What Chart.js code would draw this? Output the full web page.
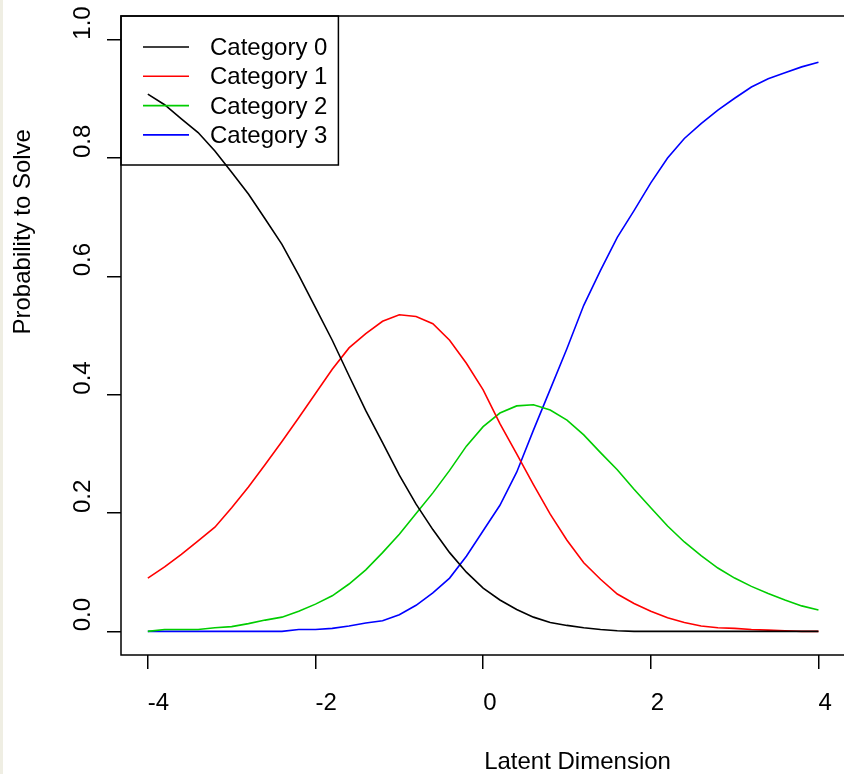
<!DOCTYPE html>
<html>
<head>
<meta charset="utf-8">
<script src="https://cdn.jsdelivr.net/npm/chart.js@4/dist/chart.umd.min.js"></script>
<style>
  html, body { margin: 0; padding: 0; overflow: hidden; background: #ffffff; }
  #wrap { position: absolute; left: 0; top: 0; width: 852px; height: 774px; }
  #edge { position: absolute; left: 0; top: 0; width: 3px; height: 774px; background: #efeee3; }
</style>
</head>
<body>
<div id="wrap"><canvas id="c"></canvas></div>
<div id="edge"></div>
<script>
// Latent trait grid
const theta = [-4, -3.8, -3.6, -3.4, -3.2, -3, -2.8, -2.6, -2.4, -2.2, -2, -1.8, -1.6, -1.4, -1.2, -1,
  -0.8, -0.6, -0.4, -0.2, 0, 0.2, 0.4, 0.6, 0.8, 1, 1.2, 1.4, 1.6, 1.8, 2, 2.2, 2.4, 2.6, 2.8, 3,
  3.2, 3.4, 3.6, 3.8, 4];

// Category response probabilities
const cat0 = [0.908, 0.890, 0.866, 0.843, 0.812, 0.776, 0.739, 0.697, 0.654, 0.602, 0.547, 0.492,
  0.432, 0.373, 0.319, 0.264, 0.215, 0.172, 0.133, 0.100, 0.073, 0.053, 0.037, 0.024, 0.015, 0.010,
  0.006, 0.003, 0.001, 0, 0, 0, 0, 0, 0, 0, 0, 0, 0, 0, 0];
const cat1 = [0.090, 0.109, 0.130, 0.153, 0.176, 0.209, 0.244, 0.282, 0.321, 0.361, 0.402, 0.443,
  0.479, 0.503, 0.524, 0.535, 0.532, 0.520, 0.492, 0.453, 0.408, 0.351, 0.300, 0.248, 0.198, 0.154,
  0.116, 0.088, 0.063, 0.047, 0.034, 0.023, 0.015, 0.009, 0.006, 0.005, 0.003, 0.002, 0.001, 0, 0];
const cat2 = [0, 0.003, 0.003, 0.003, 0.006, 0.008, 0.013, 0.019, 0.024, 0.034, 0.046, 0.060,
  0.080, 0.104, 0.133, 0.164, 0.199, 0.234, 0.272, 0.313, 0.346, 0.369, 0.381, 0.383, 0.374, 0.357,
  0.332, 0.302, 0.273, 0.240, 0.209, 0.178, 0.151, 0.128, 0.107, 0.090, 0.076, 0.064, 0.053, 0.043, 0.036];
const cat3 = [0, 0, 0, 0, 0, 0, 0, 0, 0, 0.003, 0.003, 0.005, 0.009, 0.014, 0.018, 0.028, 0.044,
  0.065, 0.090, 0.127, 0.170, 0.213, 0.269, 0.340, 0.409, 0.478, 0.551, 0.610, 0.666, 0.711, 0.758,
  0.800, 0.833, 0.858, 0.881, 0.901, 0.920, 0.934, 0.944, 0.954, 0.962];

const seriesNames = ['Category 0', 'Category 1', 'Category 2', 'Category 3'];
const seriesValues = [cat0, cat1, cat2, cat3];
const seriesColors = ['#000000', '#ff0000', '#00cd00', '#0000ff'];

const xTicks = [-4, -2, 0, 2, 4];
const yTicks = [0, 0.2, 0.4, 0.6, 0.8, 1.0];
const xTitle = 'Latent Dimension';
const yTitle = 'Probability to Solve';

const FONT_FAMILY = '"Liberation Sans", Arial, sans-serif';
const FONT_SIZE = 24;

const datasets = seriesValues.map((vals, i) => ({
  label: seriesNames[i],
  data: theta.map((t, j) => ({ x: t, y: vals[j] })),
  borderColor: seriesColors[i],
  backgroundColor: seriesColors[i],
  borderWidth: 1.6,
  pointRadius: 0,
  tension: 0,
  fill: false
}));

// Plot frame, inset legend and axis titles
const decorations = {
  id: 'decorations',
  beforeDatasetsDraw(chart) {
    const { ctx, chartArea: a } = chart;
    ctx.save();
    ctx.strokeStyle = '#000';
    ctx.lineWidth = 1.5;
    ctx.strokeRect(a.left, a.top, a.right - a.left, a.bottom - a.top);
    ctx.restore();
  },
  afterDatasetsDraw(chart) {
    const { ctx, chartArea: a } = chart;
    ctx.save();
    ctx.font = FONT_SIZE + 'px ' + FONT_FAMILY;
    const sets = chart.data.datasets;
    const textW = Math.max(...sets.map(d => ctx.measureText(d.label).width));
    const lineX0 = a.left + 22, lineX1 = a.left + 68, textX = a.left + 89;
    const rowY0 = a.top + 31, rowH = 29.3;
    const boxR = textX + textW + 11;
    const boxB = a.top + 149;
    ctx.strokeStyle = '#000';
    ctx.lineWidth = 1.5;
    ctx.strokeRect(a.left, a.top, boxR - a.left, boxB - a.top);
    sets.forEach((d, i) => {
      const y = rowY0 + i * rowH;
      ctx.strokeStyle = d.borderColor;
      ctx.lineWidth = 1.6;
      ctx.beginPath();
      ctx.moveTo(lineX0, y);
      ctx.lineTo(lineX1, y);
      ctx.stroke();
      ctx.fillStyle = '#000';
      ctx.textAlign = 'left';
      ctx.textBaseline = 'middle';
      ctx.fillText(d.label, textX, y + 1.5);
    });
    ctx.restore();
  },
  afterDraw(chart) {
    const { ctx, chartArea: a } = chart;
    ctx.save();
    ctx.font = FONT_SIZE + 'px ' + FONT_FAMILY;
    ctx.fillStyle = '#000';
    ctx.textAlign = 'left';
    ctx.textBaseline = 'alphabetic';
    ctx.fillText(xTitle, (a.left + a.right) / 2 + 1, 769);
    ctx.translate(23, (a.top + a.bottom) / 2 - 1);
    ctx.rotate(-Math.PI / 2);
    ctx.textBaseline = 'middle';
    ctx.fillText(yTitle, 0, 0);
    ctx.restore();
  }
};

new Chart(document.getElementById('c'), {
  type: 'line',
  data: { datasets },
  plugins: [decorations],
  options: {
    responsive: true,
    maintainAspectRatio: false,
    animation: false,
    devicePixelRatio: 1,
    events: [],
    layout: { padding: { left: 71, top: 16, right: 5, bottom: 0 } },
    plugins: { legend: { display: false }, tooltip: { enabled: false }, title: { display: false } },
    scales: {
      x: {
        type: 'linear',
        min: -4.32,
        max: 4.32,
        afterBuildTicks: s => { s.ticks = xTicks.map(v => ({ value: v })); },
        afterFit: s => { s.height = 119; },
        border: { display: false },
        grid: { drawOnChartArea: false, drawTicks: true, tickLength: 14, color: '#000', lineWidth: 1.5 },
        ticks: {
          autoSkip: false,
          maxRotation: 0,
          align: 'start',
          padding: 20,
          color: '#000',
          font: { family: FONT_FAMILY, size: FONT_SIZE },
          callback: v => String(v)
        }
      },
      y: {
        type: 'linear',
        min: -0.04,
        max: 1.04,
        afterBuildTicks: s => { s.ticks = yTicks.map(v => ({ value: v })); },
        afterFit: s => { s.width = 50; },
        border: { display: false },
        grid: { drawOnChartArea: false, drawTicks: true, tickLength: 14, color: '#000', lineWidth: 1.5 },
        ticks: {
          minRotation: 90,
          maxRotation: 90,
          crossAlign: 'far',
          align: 'start',
          padding: 0,
          color: '#000',
          font: { family: FONT_FAMILY, size: FONT_SIZE },
          callback: v => Number(v).toFixed(1)
        }
      }
    }
  }
});
</script>
</body>
</html>
